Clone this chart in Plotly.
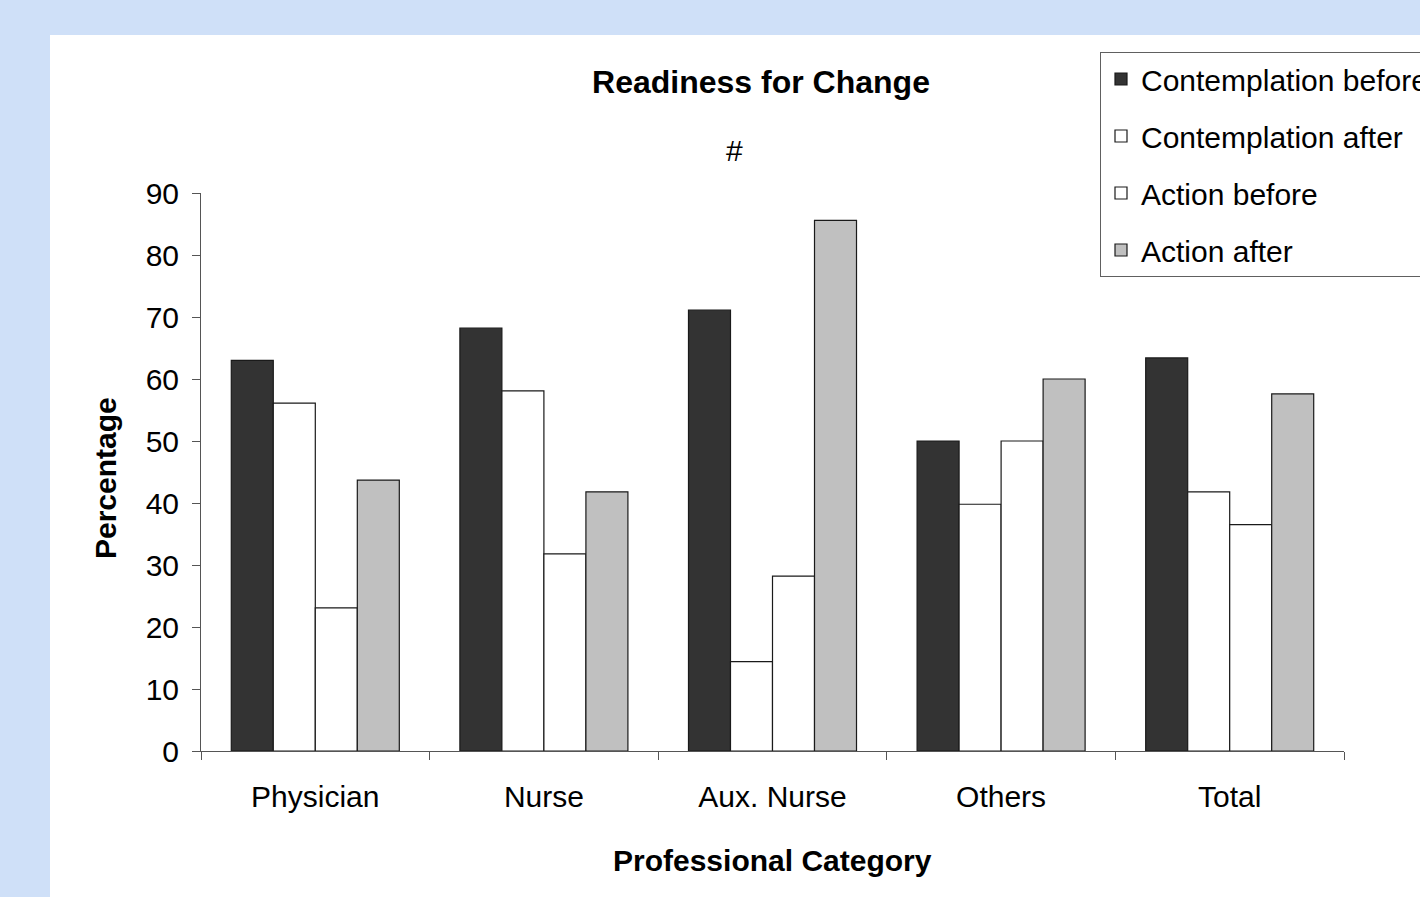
import plotly.graph_objects as go

categories = ["Physician", "Nurse", "Aux. Nurse", "Others", "Total"]
contemplation_before = [63.0, 68.2, 71.1, 50.0, 63.4]
contemplation_after = [56.1, 58.1, 14.4, 39.8, 41.8]
action_before = [23.1, 31.8, 28.2, 50.0, 36.5]
action_after = [43.7, 41.8, 85.6, 60.0, 57.6]

series = [
    ("Contemplation before", contemplation_before, "#333333"),
    ("Contemplation after", contemplation_after, "#ffffff"),
    ("Action before", action_before, "#ffffff"),
    ("Action after", action_after, "#c0c0c0"),
]

FONT = "Liberation Sans, Arial, sans-serif"

fig = go.Figure()
for i, (name, vals, col) in enumerate(series):
    fig.add_trace(go.Bar(
        x=categories, y=vals, name=name,
        marker=dict(color=col, line=dict(color="#1a1a1a", width=1.2)),
        legendgroup="g%d" % i,
    ))

W, H = 1420, 897
L, R, T, B = 201, 76, 193, 146
pw, ph = W - L - R, H - T - B

def px(x):
    return (x - L) / pw

def py(y):
    return (H - B - y) / ph

fig.update_layout(
    width=W, height=H,
    margin=dict(l=L, r=R, t=T, b=B, autoexpand=False),
    paper_bgcolor="#cfe0f8",
    plot_bgcolor="rgba(0,0,0,0)",
    barmode="group", bargap=0.265, bargroupgap=0,
    font=dict(family=FONT, size=30, color="#000000"),
    title=dict(text="<b>Readiness for Change</b>", x=761 / W, xanchor="center",
               y=1 - 82 / H, yanchor="middle", yref="container",
               font=dict(family=FONT, size=32, color="#000000")),
    showlegend=True,
    legend=dict(x=px(1100), y=py(52), xanchor="left", yanchor="top",
                bgcolor="#ffffff", bordercolor="#606060", borderwidth=1,
                font=dict(family=FONT, size=30, color="#000000"),
                tracegroupgap=15, traceorder="grouped"),
    xaxis=dict(type="category", tickson="boundaries", ticks="outside", ticklen=8,
               tickcolor="#555555", showline=True, linecolor="#555555", linewidth=1,
               showgrid=False, zeroline=False, ticklabelstandoff=19,
               tickfont=dict(family=FONT, size=30, color="#000000")),
    yaxis=dict(range=[0, 90], dtick=10, ticks="outside", ticklen=8,
               tickcolor="#555555", showline=True, linecolor="#555555", linewidth=1,
               showgrid=False, zeroline=False, ticklabelstandoff=7,
               tickfont=dict(family=FONT, size=30, color="#000000")),
    shapes=[dict(type="rect", xref="paper", yref="paper", layer="below",
                 x0=px(50), x1=px(1500), y0=py(1000), y1=py(35),
                 fillcolor="#ffffff", line=dict(width=0))],
    annotations=[
        dict(text="#", x=px(734), y=py(150), xref="paper", yref="paper",
             xanchor="center", yanchor="middle",
             showarrow=False, font=dict(family=FONT, size=30, color="#000000")),
        dict(text="<b>Percentage</b>", x=px(105), y=py(478), xref="paper", yref="paper",
             xanchor="center", yanchor="middle",
             textangle=-90, showarrow=False,
             font=dict(family=FONT, size=30, color="#000000")),
        dict(text="<b>Professional Category</b>", x=px(772), y=py(860), xref="paper",
             yref="paper", xanchor="center", yanchor="middle", showarrow=False,
             font=dict(family=FONT, size=30, color="#000000")),
    ],
)

fig.write_html("out.html", config={"displayModeBar": False},
               post_script="document.body.style.margin='0px';document.body.style.overflow='hidden';")
